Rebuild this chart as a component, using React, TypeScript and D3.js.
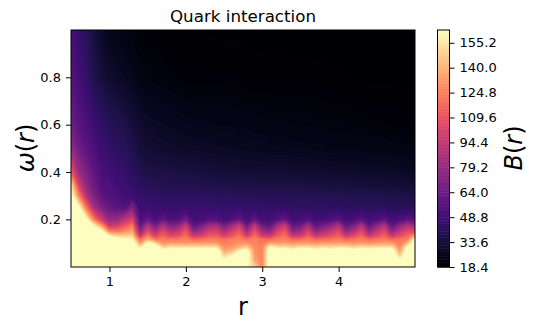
import { useEffect, useRef } from "react"
import * as d3 from "d3"

const rs = [0.5,0.6,0.7,0.8,0.9,1.0,1.1,1.2,1.3,1.4,1.5,1.6,1.7,1.8,1.9,2.0,2.1,2.2,2.3,2.4,2.5,2.6,2.7,2.8,2.9,3.0,3.1,3.2,3.3,3.4,3.5,3.6,3.7,3.8,3.9,4.0,4.1,4.2,4.3,4.4,4.5,4.6,4.7,4.8,4.9,5.0]
const omegas = [0,0.03,0.05,0.07,0.085,0.1,0.115,0.13,0.15,0.175,0.2,0.25,0.3,0.35,0.4,0.5,0.6,0.8,1]

// one line per r, values going up in omega
const bValues = [
  [175,175,175,175,175,175,175,175,175,175,175,170,170,150,112,80,66,56,52],
  [175,175,175,175,175,175,175,175,175,175,175,165,125,97,82,66,58,50,46],
  [175,175,175,175,175,175,175,175,175,175,163,120,88,76,70,58,53,45,41],
  [175,175,175,175,175,175,175,175,175,158,122,85,70,64,60,53,48,38,34],
  [175,175,175,175,175,175,175,175,165,130,98,70,60,54,52,47,44,34,29],
  [175,175,175,175,175,175,175,160,125,95,78,62,55,53,50,45,41,31,25.5],
  [175,175,175,175,175,175,168,150,122,98,80,58,53,49,47,42,39,29,24.5],
  [175,175,175,175,175,175,165,148,128,110,92,55,50,47,45,41,37,28,23.5],
  [175,175,175,175,175,175,163,150,135,122,102,72,48,44,42,38,34,26,22.5],
  [175,175,175,175,150,132,118,96,76,60,52,48,46,42,39,34,31,24,21.5],
  [175,175,175,175,175,168,140,125,106,88,62,48,44,40,37,32,29,23,20.5],
  [175,175,175,175,170,150,122,104,86,66,52,47,43.5,40,36.5,31.5,28.5,22.5,20.5],
  [175,175,175,165,146,130,125,116,106,88,60,47,43,39,36,31,28,22,20],
  [175,175,175,175,150,132,122,106,90,70,53,47,43,39,36,30.5,27.5,21.5,19.8],
  [175,175,175,175,150,132,122,108,95,74,55,47,43,38,35.5,30,27,21,19.6],
  [175,175,175,175,150,132,126,120,112,95,66,47,43,38,35,29.5,26,20.5,19.4],
  [175,175,175,175,150,132,118,96,76,60,50,46.5,42.5,38,35,29.5,26,20.5,19.4],
  [175,175,175,175,150,132,120,102,86,66,51,46.5,42.5,37.5,34.5,29,25.5,20.5,19.3],
  [175,175,175,175,150,132,124,112,100,80,55,46,42,37,34,29,25.5,20.5,19.2],
  [175,175,175,175,150,132,124,114,102,84,56,46,42,37,33.5,28.5,25,20.5,19.1],
  [175,163,148,135,128,124,120,102,86,66,51,45.5,41.5,36.5,33,28,25,20.5,19],
  [175,172,158,140,132,126,124,112,100,80,55,45.5,41.5,36.5,33,28,25,20.5,19],
  [175,175,172,158,138,130,126,120,112,96,62,45.5,41,36,32.5,27.5,24.5,20.5,19],
  [163,170,172,165,145,130,120,100,82,64,51,45,41,36,32.5,27.5,24.5,20,18.9],
  [150,135,132,130,128,126,126,118,110,92,60,45,41,36,32.5,27,24,20,18.9],
  [128,125,125,125,125,122,120,100,82,64,51,45,40.5,35.5,32,27,24,20,18.8],
  [175,175,175,175,160,135,118,96,76,60,50,44.5,40.5,35.5,32,26.5,23.5,20,18.7],
  [175,175,175,175,150,132,124,114,102,84,56,44.5,40.5,35.5,32,26.5,23.5,20,18.7],
  [175,175,175,175,150,134,126,120,112,96,62,44.5,40,35.5,32,26.5,23.5,20,18.7],
  [175,175,175,165,146,130,118,96,76,60,50,44,40,35,31.5,26,23,20,18.6],
  [175,175,175,175,150,132,120,100,82,64,51,44,40,35,31.5,26,23,20,18.6],
  [175,175,175,175,150,132,124,114,102,84,56,44,40,35,31.5,26,23,20,18.6],
  [175,175,175,165,146,130,118,96,76,60,50,43.5,39.5,34.5,31,25.5,23,19.8,18.5],
  [175,175,175,175,150,132,120,102,86,66,51,43.5,39.5,34.5,31,25.5,23,19.8,18.5],
  [175,175,175,167,148,132,122,108,95,74,53,43,39,34,30.5,25,22.5,19.5,18.5],
  [175,175,175,175,150,134,125,116,106,88,58,43,39,34,30.5,25,22.5,19.5,18.5],
  [175,175,175,175,150,132,118,96,76,60,50,43,39,34,30.5,25,22.5,19.5,18.5],
  [175,175,175,165,146,130,122,106,90,70,52,42.5,38.5,33.5,30,25,22,19.2,18.4],
  [175,175,175,175,150,132,125,116,106,88,58,42.5,38.5,33.5,30,25,22,19.2,18.4],
  [175,175,175,167,148,130,118,96,76,60,50,42,38,33,29.5,24.5,21.5,19,18.4],
  [175,175,175,175,150,132,122,108,95,74,53,42,38,33,29.5,24.5,21.5,19,18.4],
  [175,175,175,175,150,134,125,116,106,88,58,42,38,33,29.5,24.5,21.5,19,18.4],
  [175,175,175,170,150,132,118,96,76,60,50,41.5,37.5,32.5,29,24,21,19,18.4],
  [175,163,145,132,126,122,122,108,95,74,53,41.5,37.5,32.5,29,24,21,19,18.4],
  [175,175,175,172,163,140,125,116,106,88,58,41,37,32,28.5,23.5,20.5,19,18.4],
  [175,175,175,175,175,172,165,135,105,80,55,41,37,32,28.5,23.5,20.5,19,18.4],
]

const bMin = 18.4
const bMax = 163
const levelStep = 0.95
const rTicks = [1, 2, 3, 4]
const omegaTicks = [0.2, 0.4, 0.6, 0.8]
const bTicks = [18.4, 33.6, 48.8, 64.0, 79.2, 94.4, 109.6, 124.8, 140.0, 155.2]

const fontFamily = "'DejaVu Sans', sans-serif"

export default function App() {
  const chart = useRef<SVGGElement>(null)
  const width = 537
  const height = 329

  useEffect(() => {
    const svg = d3.select(chart.current)
    svg.selectAll("*").remove()

    const xScale = d3.scaleLinear().domain([0.5, 5]).range([71.3, 415])
    const yScale = d3.scaleLinear().domain([0, 1]).range([266.7, 30])
    const colorT = d3.scaleLinear().domain([bMin, bMax]).range([0, 1])
    const color = (v: number) => d3.interpolateMagma(colorT(v))
    const levels = d3.range(bMin, bMax, levelStep)

    // contour grid index -> data value
    const rOfIndex = d3.scaleLinear().domain(rs.map((_, i) => i + 0.5)).range(rs).clamp(true)
    const omegaOfIndex = d3.scaleLinear().domain(omegas.map((_, i) => i + 0.5)).range(omegas).clamp(true)

    const flat: number[] = []
    omegas.forEach((_, j) => rs.forEach((_, i) => flat.push(bValues[i][j])))

    const contours = d3.contours().size([rs.length, omegas.length]).thresholds(levels)(flat)
    const path = d3.geoPath(d3.geoTransform({
      point(x, y) {
        this.stream.point(xScale(rOfIndex(x)), yScale(omegaOfIndex(y)))
      },
    }))

    const plot = svg.append("g")
    plot.selectAll("path")
      .data(contours)
      .enter().append("path")
      .attr("d", d => path(d as any))
      .attr("fill", d => color(Math.min(d.value + levelStep / 2, bMax)))

    const tickStyle = (g: any) => {
      g.select(".domain").remove()
      g.selectAll("line").attr("stroke", "#000").attr("stroke-width", 1)
      g.selectAll("text").attr("fill", "#000").attr("font-family", fontFamily).attr("font-size", 13)
    }

    svg.append("g")
      .attr("transform", "translate(0,267)")
      .call(d3.axisBottom(xScale).tickValues(rTicks).tickFormat(d3.format("d")).tickSize(5).tickPadding(5) as any)
      .call(tickStyle)

    svg.append("g")
      .attr("transform", "translate(71,0)")
      .call(d3.axisLeft(yScale).tickValues(omegaTicks).tickFormat(d3.format(".1f")).tickSize(5).tickPadding(5) as any)
      .call(tickStyle)

    svg.append("rect")
      .attr("x", 71).attr("y", 30).attr("width", 344).attr("height", 237)
      .attr("fill", "none").attr("stroke", "#000").attr("stroke-width", 1)

    // colorbar
    const barScale = d3.scaleLinear().domain([bMin, bMax]).range([267, 30])
    svg.append("g").selectAll("rect")
      .data(levels)
      .enter().append("rect")
      .attr("x", 437.5)
      .attr("width", 12)
      .attr("y", d => barScale(Math.min(d + levelStep, bMax)))
      .attr("height", d => barScale(d) - barScale(Math.min(d + levelStep, bMax)) + 0.5)
      .attr("fill", d => color(Math.min(d + levelStep / 2, bMax)))

    svg.append("g")
      .attr("transform", "translate(449.5,0)")
      .call(d3.axisRight(barScale).tickValues(bTicks).tickFormat(d3.format(".1f")).tickSize(5).tickPadding(5) as any)
      .call(tickStyle)

    svg.append("rect")
      .attr("x", 437.5).attr("y", 30).attr("width", 12).attr("height", 237)
      .attr("fill", "none").attr("stroke", "#000").attr("stroke-width", 1)
  }, [])

  return (
    <svg width={width} height={height} style={{ position: "absolute", left: 0, top: 0, background: "#fff" }}>
      <g ref={chart} />
      <text x={243} y={22} textAnchor="middle" fontFamily={fontFamily} fontSize={16.7}>Quark interaction</text>
      <text x={243} y={315} textAnchor="middle" fontFamily={fontFamily} fontSize={24}>r</text>
      <text transform="translate(34,148) rotate(-90)" textAnchor="middle" fontFamily={fontFamily} fontSize={24}>
        <tspan fontStyle="italic">ω</tspan>(<tspan fontStyle="italic">r</tspan>)
      </text>
      <text transform="translate(522,148) rotate(-90)" textAnchor="middle" fontFamily={fontFamily} fontSize={24}>
        <tspan fontStyle="italic">B</tspan>(<tspan fontStyle="italic">r</tspan>)
      </text>
    </svg>
  )
}
